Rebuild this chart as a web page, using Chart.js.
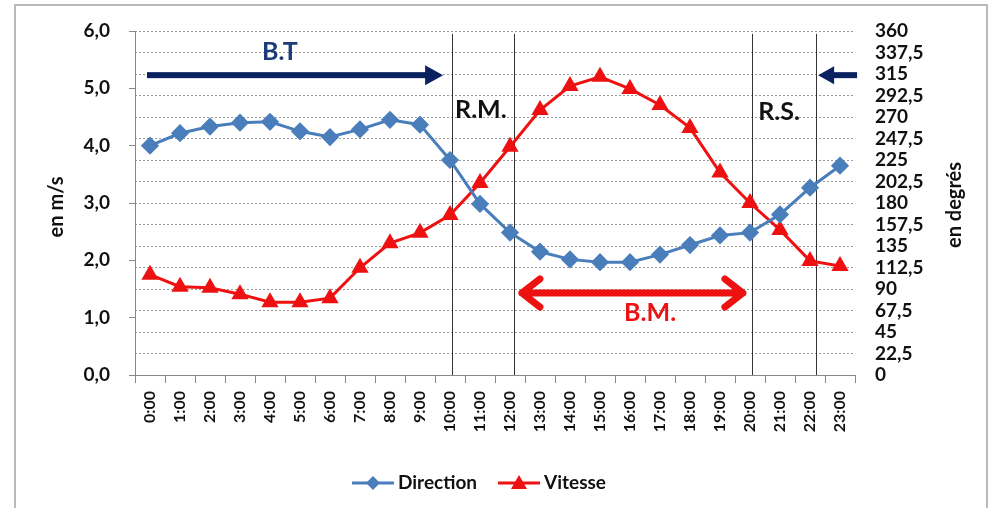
<!DOCTYPE html>
<html>
<head>
<meta charset="utf-8">
<script src="https://cdn.jsdelivr.net/npm/chart.js@4.4.1/dist/chart.umd.min.js"></script>
<style>
  html, body { margin: 0; padding: 0; background: #fff; }
  #wrap { width: 992px; height: 508px; position: relative; }
</style>
</head>
<body>
<div id="wrap"><canvas id="windChart" width="992" height="508"></canvas></div>
<script>
// Hours of the day
const hours = ['0:00', '1:00', '2:00', '3:00', '4:00', '5:00', '6:00', '7:00', '8:00', '9:00', '10:00', '11:00',
  '12:00', '13:00', '14:00', '15:00', '16:00', '17:00', '18:00', '19:00', '20:00', '21:00', '22:00', '23:00'];

// Wind direction (degrees, right axis)
const direction = [240, 253, 260, 264, 265, 255, 249, 257, 267, 262, 225, 179,
  149, 129, 121, 118, 118, 126, 136, 146, 149, 168, 196, 219];

// Wind speed (m/s, left axis)
const vitesse = [1.75, 1.54, 1.52, 1.41, 1.27, 1.27, 1.34, 1.87, 2.30, 2.48, 2.79, 3.35,
  3.98, 4.62, 5.04, 5.20, 4.99, 4.71, 4.31, 3.53, 3.00, 2.53, 1.99, 1.90];

const FONT = "Lato, 'Open Sans', sans-serif";
const BLUE = '#4a7ebb';
const RED = '#ee1111';
const NAVY = '#0b2260';

function fmtComma(v, digits) {
  return Number(v).toFixed(digits).replace('.', ',');
}

// arrows, labels, borders, custom legend
const annotations = {
  id: 'annotations',
  beforeDatasetsDraw(chart) {
    const { ctx, scales: { x, y } } = chart;
    ctx.save();
    ctx.strokeStyle = '#333';
    ctx.lineWidth = 1;
    [10.07, 12.13, 20.07, 22.2].forEach(i => {
      const px = Math.round(x.getPixelForValue(i)) + 0.5;
      ctx.beginPath();
      ctx.moveTo(px, y.getPixelForValue(5.95));
      ctx.lineTo(px, y.getPixelForValue(0));
      ctx.stroke();
    });
    ctx.restore();
  },
  afterDraw(chart) {
    const { ctx, scales: { x, y } } = chart;
    ctx.save();

    // outer frame
    ctx.strokeStyle = '#b8b8b8';
    ctx.lineWidth = 2;
    ctx.strokeRect(15, 5, 972, 520);

    // B.T arrow
    const btY = y.getPixelForValue(5.23);
    const btX0 = x.getPixelForValue(-0.1);
    const btX1 = x.getPixelForValue(9.77);
    ctx.fillStyle = NAVY;
    ctx.fillRect(btX0, btY - 3, btX1 - btX0 - 16, 6);
    ctx.beginPath();
    ctx.moveTo(btX1, btY);
    ctx.lineTo(btX1 - 18, btY - 10);
    ctx.lineTo(btX1 - 18, btY + 10);
    ctx.closePath();
    ctx.fill();

    // return arrow at the right
    const rX0 = x.getPixelForValue(22.27);
    const rX1 = x.getPixelForValue(23.57);
    ctx.fillRect(rX0 + 14, btY - 3, rX1 - rX0 - 14, 6);
    ctx.beginPath();
    ctx.moveTo(rX0, btY);
    ctx.lineTo(rX0 + 16, btY - 9);
    ctx.lineTo(rX0 + 16, btY + 9);
    ctx.closePath();
    ctx.fill();

    ctx.textAlign = 'center';
    ctx.textBaseline = 'middle';
    ctx.font = 'bold 25px ' + FONT;
    ctx.fillStyle = '#1c3b78';
    ctx.fillText('B.T', x.getPixelForValue(4.33), y.getPixelForValue(5.63));
    ctx.fillStyle = '#111';
    ctx.fillText('R.M.', x.getPixelForValue(11.03), y.getPixelForValue(4.62));
    ctx.fillText('R.S.', x.getPixelForValue(20.97), y.getPixelForValue(4.59));

    // B.M. double arrow
    const bmY = y.getPixelForValue(1.43);
    const bmX0 = x.getPixelForValue(12.33);
    const bmX1 = x.getPixelForValue(19.83);
    ctx.strokeStyle = RED;
    ctx.lineWidth = 7;
    ctx.lineCap = 'round';
    ctx.lineJoin = 'round';
    ctx.beginPath();
    ctx.moveTo(bmX0 + 2, bmY);
    ctx.lineTo(bmX1 - 2, bmY);
    ctx.moveTo(bmX0 + 20, bmY - 14);
    ctx.lineTo(bmX0 + 2, bmY);
    ctx.lineTo(bmX0 + 20, bmY + 14);
    ctx.moveTo(bmX1 - 20, bmY - 14);
    ctx.lineTo(bmX1 - 2, bmY);
    ctx.lineTo(bmX1 - 20, bmY + 14);
    ctx.stroke();
    ctx.fillStyle = RED;
    ctx.fillText('B.M.', x.getPixelForValue(16.67), y.getPixelForValue(1.08));

    // axis titles
    ctx.fillStyle = '#111';
    ctx.font = 'bold 20px ' + FONT;
    ctx.save();
    ctx.translate(57, 207);
    ctx.rotate(-Math.PI / 2);
    ctx.fillText('en m/s', 0, 0);
    ctx.restore();
    ctx.save();
    ctx.translate(955, 205);
    ctx.rotate(-Math.PI / 2);
    ctx.fillText('en degrés', 0, 0);
    ctx.restore();

    // legend
    const ly = 483;
    ctx.lineWidth = 3;
    ctx.lineCap = 'butt';
    ctx.font = 'bold 19px ' + FONT;
    ctx.textAlign = 'left';
    ctx.strokeStyle = BLUE;
    ctx.beginPath(); ctx.moveTo(352, ly); ctx.lineTo(394, ly); ctx.stroke();
    ctx.fillStyle = BLUE;
    ctx.beginPath();
    ctx.moveTo(373, ly - 7); ctx.lineTo(380, ly); ctx.lineTo(373, ly + 7); ctx.lineTo(366, ly);
    ctx.closePath(); ctx.fill();
    ctx.fillStyle = '#111';
    ctx.fillText('Direction', 398, ly);

    ctx.strokeStyle = RED;
    ctx.beginPath(); ctx.moveTo(498, ly); ctx.lineTo(540, ly); ctx.stroke();
    ctx.fillStyle = RED;
    ctx.beginPath();
    ctx.moveTo(519, ly - 8); ctx.lineTo(527, ly + 6); ctx.lineTo(511, ly + 6);
    ctx.closePath(); ctx.fill();
    ctx.fillStyle = '#111';
    ctx.fillText('Vitesse', 544, ly);

    ctx.restore();
  }
};

const ctx = document.getElementById('windChart').getContext('2d');
window.windChart = new Chart(ctx, {
  type: 'line',
  data: {
    labels: hours,
    datasets: [
      {
        label: 'Direction',
        data: direction,
        yAxisID: 'deg',
        borderColor: BLUE,
        backgroundColor: BLUE,
        borderWidth: 3,
        pointStyle: 'rectRot',
        pointRadius: 7,
        pointHoverRadius: 7,
        tension: 0
      },
      {
        label: 'Vitesse',
        data: vitesse,
        yAxisID: 'y',
        borderColor: RED,
        backgroundColor: RED,
        borderWidth: 3,
        pointStyle: 'triangle',
        pointRadius: 7,
        pointHoverRadius: 7,
        tension: 0
      }
    ]
  },
  options: {
    responsive: false,
    animation: false,
    layout: { padding: { top: 31, left: 0, right: 0, bottom: 0 } },
    plugins: {
      legend: { display: false },
      tooltip: { enabled: false }
    },
    scales: {
      x: {
        offset: true,
        grid: { offset: true, drawOnChartArea: false, tickLength: 8, color: '#888' },
        border: { display: true, color: '#888', width: 1 },
        ticks: {
          minRotation: 90,
          maxRotation: 90,
          autoSkip: false,
          padding: 8,
          color: '#111',
          font: { family: FONT, size: 16, weight: 'bold' }
        },
        afterFit(scale) { scale.height = 133; }
      },
      y: {
        position: 'left',
        min: 0,
        max: 6,
        ticks: {
          stepSize: 1,
          padding: 19,
          color: '#111',
          font: { family: FONT, size: 19, weight: 'bold' },
          callback: v => fmtComma(v, 1)
        },
        grid: { drawOnChartArea: false, tickLength: 6, color: '#888' },
        border: { display: true, color: '#888', width: 1 },
        afterFit(scale) { scale.width = 135; }
      },
      deg: {
        position: 'right',
        min: 0,
        max: 360,
        ticks: {
          stepSize: 22.5,
          autoSkip: false,
          padding: 20,
          color: '#111',
          font: { family: FONT, size: 19, weight: 'bold', lineHeight: 1 },
          callback: v => (Number.isInteger(v) ? String(v) : fmtComma(v, 1))
        },
        grid: { drawOnChartArea: true, drawTicks: false, color: '#9a9a9a', lineWidth: 1 },
        border: { display: false, dash: [2, 2] },
        afterFit(scale) { scale.width = 137; }
      }
    }
  },
  plugins: [annotations]
});
</script>
</body>
</html>
